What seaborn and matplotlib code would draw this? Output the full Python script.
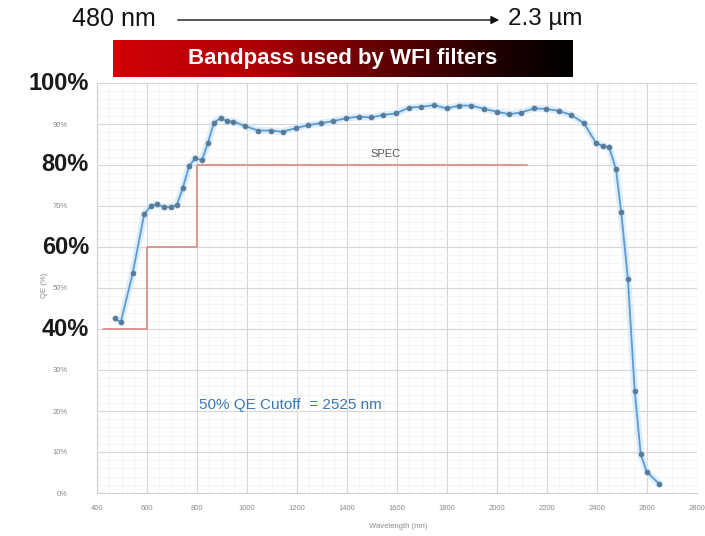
import numpy as np
import pandas as pd
import matplotlib
matplotlib.use("Agg")
import matplotlib.pyplot as plt
from matplotlib.colors import LinearSegmentedColormap
from matplotlib.ticker import MultipleLocator
import seaborn as sns

# ---- data ----
wavelength_nm = [473, 496, 544, 590, 616, 642, 669, 696, 720, 744, 770, 794, 821, 845,
                 869, 896, 920, 946, 994, 1046, 1096, 1144, 1196, 1245, 1296, 1346,
                 1397, 1448, 1498, 1546, 1597, 1650, 1698, 1749, 1800, 1850, 1898,
                 1949, 2000, 2050, 2098, 2149, 2197, 2248, 2298, 2349, 2397, 2424,
                 2450, 2477, 2498, 2525, 2552, 2576, 2600, 2650]
qe_pct = [42.6, 41.6, 53.6, 68.0, 70.0, 70.4, 69.7, 69.8, 70.2, 74.3, 79.8, 81.6, 81.2, 85.4,
          90.3, 91.5, 90.7, 90.6, 89.5, 88.4, 88.4, 88.1, 89.0, 89.7, 90.2, 90.7,
          91.4, 91.8, 91.6, 92.2, 92.6, 94.0, 94.2, 94.6, 93.8, 94.5, 94.5,
          93.7, 93.0, 92.4, 92.8, 93.8, 93.7, 93.2, 92.2, 90.2, 85.4, 84.6,
          84.3, 79.0, 68.5, 52.1, 24.9, 9.5, 5.2, 2.2]
spec_x = [425, 600, 800, 2120]
spec_y = [40, 60, 80, 80]
x_ticks = [400, 600, 800, 1000, 1200, 1400, 1600, 1800, 2000, 2200, 2400, 2600, 2800]
y_ticks = [0, 10, 20, 30, 40, 50, 60, 70, 80, 90, 100]
y_small_labels = ["0%", "10%", "20%", "30%", "", "50%", "", "70%", "", "90%", ""]
big_labels = ["100%", "80%", "60%", "40%"]
big_label_values = [100, 80, 60, 40]

df = pd.DataFrame({"wavelength": wavelength_nm, "qe": qe_pct})
spec = pd.DataFrame({"x": spec_x, "y": spec_y})

sns.set_theme(style="white")
plt.rcParams["font.family"] = ["Liberation Sans", "DejaVu Sans"]

W, H = 705, 536
fig = plt.figure(figsize=(W / 100, H / 100), dpi=100)
fig.patch.set_facecolor("white")

x0, x1, ytop, ybot = 96.7, 696.7, 83, 493
ax = fig.add_axes([x0 / W, 1 - ybot / H, (x1 - x0) / W, (ybot - ytop) / H])
ax.set_facecolor("white")

# spec step line
sns.lineplot(data=spec, x="x", y="y", ax=ax, drawstyle="steps-post", estimator=None,
             sort=False, color="#d98a80", linewidth=1.2, zorder=3)
# glow + measured curve
sns.lineplot(data=df, x="wavelength", y="qe", ax=ax, estimator=None, sort=False,
             color="#cfe6f8", linewidth=5, alpha=0.7, zorder=4)
sns.lineplot(data=df, x="wavelength", y="qe", ax=ax, estimator=None, sort=False,
             color="#5b9bd5", linewidth=1.3, marker="o", markersize=3.3,
             markerfacecolor="#587b99", markeredgecolor="#587b99", zorder=5)

ax.set_xlim(400, 2800)
ax.set_ylim(0, 100)
ax.set_xticks(x_ticks)
ax.set_xticklabels([str(t) for t in x_ticks])
ax.set_yticks(y_ticks)
ax.set_yticklabels(y_small_labels)
ax.xaxis.set_minor_locator(MultipleLocator(50))
ax.yaxis.set_minor_locator(MultipleLocator(2))
ax.grid(which="major", color="#d6d6d6", linewidth=0.8)
ax.grid(which="minor", color="#f1f1f1", linewidth=0.5)
ax.set_axisbelow(True)
ax.tick_params(axis="both", which="both", length=0, labelsize=5.5, labelcolor="#8a8a8a")
ax.tick_params(axis="y", pad=21)
ax.tick_params(axis="x", pad=9)
for s in ["top", "right"]:
    ax.spines[s].set_visible(False)
for s in ["left", "bottom"]:
    ax.spines[s].set_color("#cfcfcf")
    ax.spines[s].set_linewidth(0.8)
ax.set_xlabel("")
ax.set_ylabel("")

ax.text(1555, 81.5, "SPEC", fontsize=8, color="#555555", ha="center", va="bottom")
ax.text(1173, 21.5, "50% QE Cutoff  = 2525 nm", fontsize=11, color="#3a78b5",
        ha="center", va="center")

fig.text(398 / W, 1 - 527 / H, "Wavelength (nm)", fontsize=5.5, color="#8a8a8a",
         ha="center", va="center")
fig.text(45 / W, 1 - 285 / H, "QE (%)", fontsize=5.5, color="#8a8a8a",
         ha="center", va="center", rotation=90)

# big overlay percentage labels
for lab, v in zip(big_labels, big_label_values):
    ypix = ybot - v * (ybot - ytop) / 100
    fig.text(89 / W, 1 - ypix / H, lab, fontsize=17, fontweight="bold", color="#1a1a1a",
             ha="right", va="center")

# top annotation
fig.text(72 / W, 1 - 19 / H, "480 nm", fontsize=18, color="#111111", ha="left", va="center")
fig.text(508 / W, 1 - 19 / H, "2.3 µm", fontsize=17.5, color="#111111", ha="left", va="center")
fig.add_artist(matplotlib.patches.FancyArrowPatch(
    (175 / W, 1 - 20 / H), (502 / W, 1 - 20 / H), transform=fig.transFigure,
    arrowstyle="-|>", mutation_scale=12, color="#111111", linewidth=1.0))

# gradient banner
bax = fig.add_axes([113 / W, 1 - 77 / H, (573 - 113) / W, 37 / H])
cmap = LinearSegmentedColormap.from_list(
    "banner", [(0, "#d20008"), (0.3, "#b00006"), (0.6, "#5e0003"), (0.85, "#1c0000"), (1, "#000000")])
bax.imshow(np.linspace(0, 1, 256)[None, :], aspect="auto", cmap=cmap, extent=[0, 1, 0, 1])
bax.set_axis_off()
bax.text(0.5, 0.5, "Bandpass used by WFI filters", color="white", fontsize=16,
         fontweight="bold", ha="center", va="center", transform=bax.transAxes)

fig.savefig("out.png", dpi=100, facecolor="white")
